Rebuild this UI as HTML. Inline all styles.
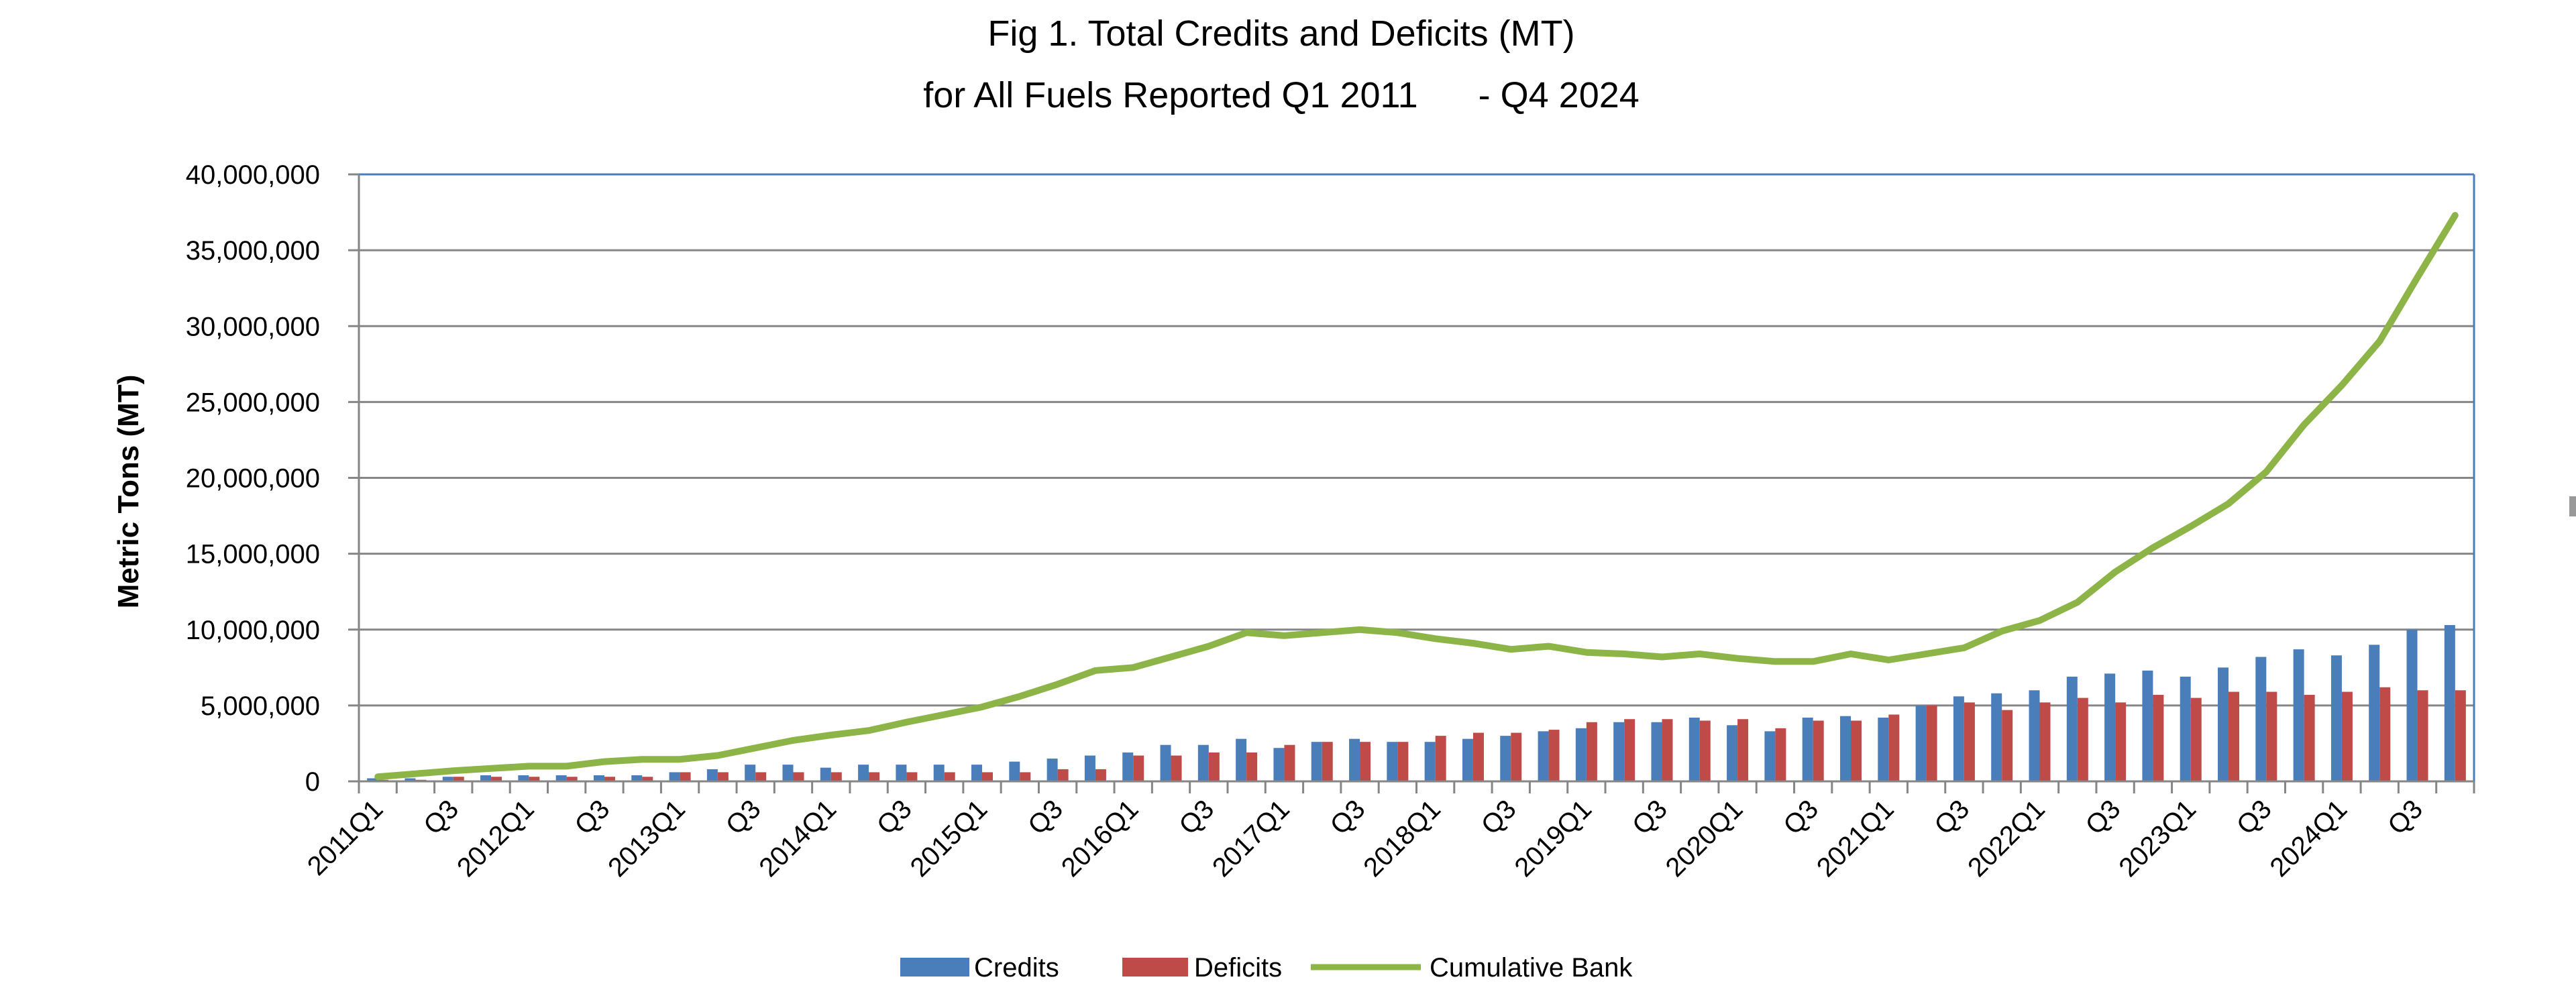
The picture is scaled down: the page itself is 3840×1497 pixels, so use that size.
<!DOCTYPE html>
<html><head><meta charset="utf-8"><style>
html,body{margin:0;padding:0;background:#fff;}
svg{display:block;font-family:"Liberation Sans",sans-serif;}
</style></head><body>
<svg id="chart" width="3840" height="1497" viewBox="0 0 3840 1497" xmlns="http://www.w3.org/2000/svg">
<text x="1910" y="68" font-size="54" text-anchor="middle" fill="#000">Fig 1. Total Credits and Deficits (MT)</text>
<text x="1910" y="160" font-size="54" text-anchor="middle" fill="#000" xml:space="preserve">for All Fuels Reported Q1 2011      - Q4 2024</text>
<text transform="translate(206,733) rotate(-90)" font-size="44" font-weight="bold" text-anchor="middle" fill="#000">Metric Tons (MT)</text>
<g id="grid"></g><g id="bars"></g><g id="line"></g><g id="axes"></g>
<g>
<rect x="1342" y="1428" width="103" height="28" fill="#4a7ebb"/>
<text x="1452" y="1456" font-size="40" fill="#000">Credits</text>
<rect x="1673" y="1428" width="98" height="28" fill="#be4b48"/>
<text x="1780" y="1456" font-size="40" fill="#000">Deficits</text>
<line x1="1954" y1="1442" x2="2118" y2="1442" stroke="#8cb447" stroke-width="9"/>
<text x="2131" y="1456" font-size="40" fill="#000">Cumulative Bank</text>
</g>
<rect x="3830" y="740" width="10" height="30" fill="#999"/>
</svg>
<script>
const years = [2011,2012,2013,2014,2015,2016,2017,2018,2019,2020,2021,2022,2023,2024];
const credits = [0.2,0.2,0.3,0.4, 0.4,0.4,0.4,0.4, 0.6,0.8,1.1,1.1, 0.9,1.1,1.1,1.1, 1.1,1.3,1.5,1.7, 1.9,2.4,2.4,2.8, 2.2,2.6,2.8,2.6, 2.6,2.8,3.0,3.3, 3.5,3.9,3.9,4.2, 3.7,3.3,4.2,4.3, 4.2,5.0,5.6,5.8, 6.0,6.9,7.1,7.3, 6.9,7.5,8.2,8.7, 8.3,9.0,10.0,10.3];
const deficits = [0.1,0.1,0.3,0.3, 0.3,0.3,0.3,0.3, 0.6,0.6,0.6,0.6, 0.6,0.6,0.6,0.6, 0.6,0.6,0.8,0.8, 1.7,1.7,1.9,1.9, 2.4,2.6,2.6,2.6, 3.0,3.2,3.2,3.4, 3.9,4.1,4.1,4.0, 4.1,3.5,4.0,4.0, 4.4,5.0,5.2,4.7, 5.2,5.5,5.2,5.7, 5.5,5.9,5.9,5.7, 5.9,6.2,6.0,6.0];
const bank = [0.3,0.5,0.7,0.85, 1.0,1.0,1.3,1.45, 1.45,1.7,2.2,2.7, 3.05,3.35,3.9,4.4, 4.9,5.6,6.4,7.3, 7.5,8.2,8.9,9.8, 9.6,9.8,10.0,9.8, 9.4,9.1,8.7,8.9, 8.5,8.4,8.2,8.4, 8.1,7.9,7.9,8.4, 8.0,8.4,8.8,9.9, 10.6,11.8,13.8,15.4, 16.8,18.3,20.4,23.5, 26.1,29.0,33.2,37.3];
const yTicks = [0,5,10,15,20,25,30,35,40];
const yTickLabels = ["0","5,000,000","10,000,000","15,000,000","20,000,000","25,000,000","30,000,000","35,000,000","40,000,000"];
const categories = [];
years.forEach(y=>{["Q1","Q2","Q3","Q4"].forEach(q=>categories.push(y+q));});

(function(){
const NS="http://www.w3.org/2000/svg";
const L=535,R=3688,T=260,B=1165;
const n=categories.length, step=(R-L)/n;
const xC=i=>L+(i+0.5)*step;
const yS=v=>B-(v/40)*(B-T);
function mk(tag,attrs,parent){const e=document.createElementNS(NS,tag);for(const k in attrs)e.setAttribute(k,attrs[k]);parent.appendChild(e);return e;}
const grid=document.getElementById('grid'),bars=document.getElementById('bars'),lineG=document.getElementById('line'),axes=document.getElementById('axes');

yTicks.forEach((t,i)=>{
  const y=yS(t);
  if(t>0&&t<40){const g=mk('line',{x1:L,x2:R,y1:y,y2:y,stroke:'#868686','stroke-width':3},grid);
  
  }
  const tk=mk('line',{x1:L-16,x2:L,y1:y,y2:y,stroke:'#868686','stroke-width':3},axes);
  
  
  const tx=mk('text',{x:477,y:y+14,'font-size':40,'text-anchor':'end',fill:'#000'},axes);
  tx.textContent=yTickLabels[i];
  
  
});
const bw=16;
categories.forEach((c,i)=>{
  const x=xC(i);
  const b1=mk('rect',{x:x-bw,y:yS(credits[i]),width:bw,height:B-yS(credits[i]),fill:'#4a7ebb'},bars);
  
  
  const b2=mk('rect',{x:x,y:yS(deficits[i]),width:bw,height:B-yS(deficits[i]),fill:'#be4b48'},bars);
  
  
});
const pts=bank.map((v,i)=>xC(i).toFixed(1)+','+yS(v).toFixed(1)).join(' ');
const pl=mk('polyline',{points:pts,fill:'none',stroke:'#8cb447','stroke-width':10,'stroke-linejoin':'round','stroke-linecap':'round'},lineG);



const topB=mk('line',{x1:L,x2:R,y1:T,y2:T,stroke:'#4a7ebb','stroke-width':3},axes);


const rt=mk('line',{x1:R,x2:R,y1:T,y2:B,stroke:'#4a7ebb','stroke-width':3},axes);


const ya=mk('line',{x1:L,x2:L,y1:T,y2:B,stroke:'#868686','stroke-width':3},axes);


const xa=mk('line',{x1:L,x2:R,y1:B,y2:B,stroke:'#868686','stroke-width':3},axes);


for(let i=0;i<=n;i++){
  const x=L+i*step;
  const tk=mk('line',{x1:x,x2:x,y1:B,y2:B+18,stroke:'#868686','stroke-width':3},axes);
  
  
}
categories.forEach((c,i)=>{
  if(i%2) return;
  const lab=(i%4===0)?c:'Q3';
  const x=xC(i)+10,y=B+30;
  const tx=mk('text',{x:0,y:0,'font-size':40,'text-anchor':'end',fill:'#000',transform:`translate(${x},${y+14}) rotate(-45)`},axes);
  tx.textContent=lab;
  
  
});
})();
</script>
</body></html>
